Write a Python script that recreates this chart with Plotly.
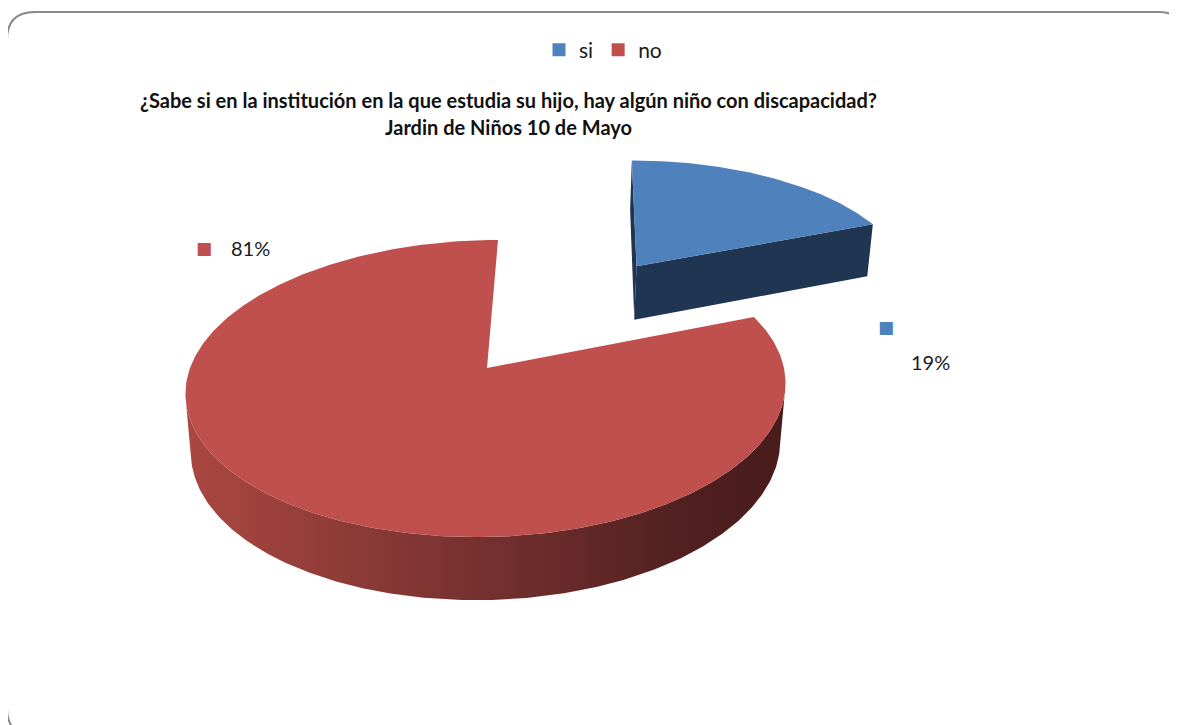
import numpy as np
import plotly.graph_objects as go

# ---------------- data ----------------
categories = ["si", "no"]
values = [19, 81]
top_colors = {"si": "#4f81bd", "no": "#c0504d"}
side_colors = {"si": "#203552", "no": "#5a2322"}
explode = {"si": 0.935, "no": 0.0}
title_lines = [
    "¿Sabe si en la institución en la que estudia su hijo, hay algún niño con discapacidad?",
    "Jardin de Niños 10 de Mayo",
]

# ---------------- 3D view parameters ----------------
SIN_E, COS_E = 0.4906, 0.871
DIST = 6.3
FOCAL = 1871.0
THICK = 0.226
SKEW = 11.0
CAM = np.array([0.0, -DIST * COS_E, DIST * SIN_E])

W, H = 1177, 725
OFF = 8            # page body margin
CX, CY = 487, 368  # pie centre in page pixels


def project(X, Y, Z):
    X = np.asarray(X, float); Y = np.asarray(Y, float); Z = np.asarray(Z, float)
    depth = DIST + Y * COS_E - Z * SIN_E
    return CX + X * FOCAL / depth + SKEW * Y, CY - (Y * SIN_E + Z * COS_E) * FOCAL / depth


fig = go.Figure()

total = float(sum(values))
start = 0.0
slices = []
for cat, v in zip(categories, values):
    sweep = 360.0 * v / total
    slices.append((cat, start, start + sweep))
    start += sweep


def add_poly(xs, ys, color=None, gradient=None):
    kw = dict(x=list(xs) + [xs[0]], y=list(ys) + [ys[0]], mode="lines", fill="toself",
              line=dict(width=0), hoverinfo="skip", showlegend=False)
    if gradient is not None:
        kw["fillgradient"] = dict(type="horizontal", colorscale=gradient)
    else:
        kw["fillcolor"] = color
    fig.add_trace(go.Scatter(**kw))


red_gradient = [[0, "#ab4742"], [0.45, "#7a3331"], [0.85, "#4f1f1f"], [1, "#4a1c1c"]]

for cat, a, b in slices:
    mid = np.radians((a + b) / 2)
    ox, oy = explode[cat] * np.sin(mid), explode[cat] * np.cos(mid)
    th = np.radians(np.linspace(a, b, 400))
    rx, ry = ox + np.sin(th), oy + np.cos(th)

    # cut faces
    for edge, nvec in ((a, (-np.cos(np.radians(a)), np.sin(np.radians(a)))),
                       (b, (np.cos(np.radians(b)), -np.sin(np.radians(b))))):
        P = np.array([ox, oy, 0.0])
        vis = (CAM - P)[0] * nvec[0] + (CAM - P)[1] * nvec[1]
        if vis > 1e-6:
            e = np.radians(edge)
            ex, ey = ox + np.sin(e), oy + np.cos(e)
            px, py = project([ox, ex, ex, ox], [oy, ey, ey, oy], [0, 0, -THICK, -THICK])
            add_poly(px, py, color=side_colors[cat])

    # outer rim
    vis = (CAM[0] - rx) * np.sin(th) + (CAM[1] - ry) * np.cos(th) > 0
    idx = np.where(vis)[0]
    if len(idx):
        runs = np.split(idx, np.where(np.diff(idx) > 1)[0] + 1)
        for r in runs:
            tx, ty = project(rx[r], ry[r], np.zeros(len(r)))
            bx, by = project(rx[r][::-1], ry[r][::-1], -THICK * np.ones(len(r)))
            if cat == "no":
                add_poly(np.concatenate([tx, bx]), np.concatenate([ty, by]), gradient=red_gradient)
            else:
                add_poly(np.concatenate([tx, bx]), np.concatenate([ty, by]), color=side_colors[cat])

    # top face
    tx, ty = project(np.concatenate([[ox], rx]), np.concatenate([[oy], ry]), np.zeros(len(rx) + 1))
    add_poly(tx, ty, color=top_colors[cat])

# legend entries
for cat in categories:
    fig.add_trace(go.Scatter(x=[None], y=[None], mode="markers", name=cat,
                             marker=dict(symbol="square", size=13, color=top_colors[cat])))

# data labels
label_pos = {"no": (250, 248, 204, 248), "si": (930, 362, 886, 327)}
annotations = []
for cat, v in zip(categories, values):
    lx, ly, mx, my = label_pos[cat]
    annotations.append(dict(x=lx, y=ly, text=f"{round(100 * v / total)}%", showarrow=False,
                            xanchor="center", yanchor="middle",
                            font=dict(family="Lato, Carlito, sans-serif", size=20, color="#1a1a1a")))
    annotations.append(dict(x=mx, y=my, text="■", showarrow=False,
                            xanchor="center", yanchor="middle",
                            font=dict(family="DejaVu Sans", size=17, color=top_colors[cat])))

for line, py in zip(title_lines, (100, 127)):
    annotations.append(dict(x=508, y=py, text=f"<b>{line}</b>", showarrow=False,
                            xanchor="center", yanchor="middle",
                            font=dict(family="Lato, Carlito, sans-serif", size=20, color="#111111")))

# border (rounded frame partly beyond the page)
L, T, R, B, rad = 7, 12, 1186, 736, 28
border = (f"M {L + rad},{T} L {R - rad},{T} Q {R},{T} {R},{T + rad} L {R},{B - rad} "
          f"Q {R},{B} {R - rad},{B} L {L + rad},{B} Q {L},{B} {L},{B - rad} "
          f"L {L},{T + rad} Q {L},{T} {L + rad},{T} Z")

fig.update_layout(
    width=W, height=H,
    margin=dict(l=0, r=0, t=0, b=0),
    paper_bgcolor="white", plot_bgcolor="white",
    xaxis=dict(range=[OFF, OFF + W], visible=False, fixedrange=True),
    yaxis=dict(range=[OFF + H, OFF], visible=False, fixedrange=True),
    showlegend=True,
    legend=dict(orientation="h", x=(603 - OFF) / W, xanchor="center", y=1 - (50 - OFF) / H, yanchor="middle",
                font=dict(family="Lato, Carlito, sans-serif", size=21, color="#1a1a1a"),
                itemwidth=30, bgcolor="rgba(0,0,0,0)"),
    annotations=annotations,
    shapes=[dict(type="path", path=border, xref="x", yref="y",
                 line=dict(color="#8a8a8a", width=2), fillcolor="rgba(0,0,0,0)")],
)

fig.write_html("out.html")
